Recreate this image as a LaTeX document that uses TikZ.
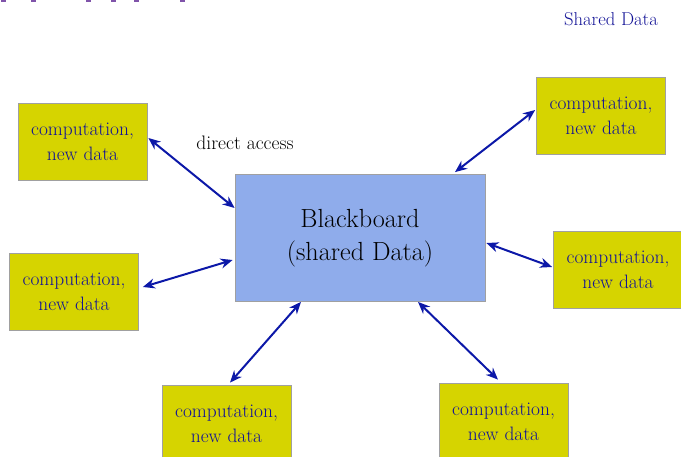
\documentclass[tikz,border=0pt]{standalone}
\usetikzlibrary{arrows.meta,calc}
\definecolor{procfill}{RGB}{214,212,0}
\definecolor{boardfill}{RGB}{143,172,235}
\definecolor{edgegray}{RGB}{160,160,160}
\definecolor{inkblue}{RGB}{18,18,150}
\definecolor{arrowblue}{RGB}{12,24,168}
\definecolor{titlepurple}{RGB}{128,84,170}
\begin{document}
\begin{tikzpicture}[x=1pt,y=-1pt,
  procbox/.style={draw=edgegray,line width=0.8pt,fill=procfill,text=inkblue,
    minimum width=129pt,minimum height=77pt,inner sep=0pt,align=center,
    font=\fontsize{19.4}{25}\selectfont},
  board/.style={draw=edgegray,line width=0.8pt,fill=boardfill,text=black,
    minimum width=250pt,minimum height=127pt,inner sep=0pt,align=center,
    font=\fontsize{26.2}{33}\selectfont},
  link/.style={draw=arrowblue,line width=2pt,
    {Stealth[length=12pt,width=10pt]}-{Stealth[length=12pt,width=10pt]}}]
\useasboundingbox (0,0) rectangle (681,456);
\begin{scope}
\clip (0,0) rectangle (681,456);
% clipped title descenders along the top edge
\foreach \px in {1,31,86,111,134,180}
  \fill[titlepurple] (\px,0) rectangle ++(5,2);

\node[text=inkblue,font=\fontsize{18.6}{24}\selectfont] (title) at (611,19) {Shared Data};

\node[board] (bb) at (360,238) {Blackboard\\(shared Data)};

\node[procbox] (tl) at (82.5,141.5) {computation,\\new data};
\node[procbox] (tr) at (601,116) {computation,\\new data};
\node[procbox] (ml) at (74,291.5) {computation,\\new data};
\node[procbox] (mr) at (618,270) {computation,\\new data};
\node[procbox] (bl) at (226.5,423.5) {computation,\\new data};
\node[procbox] (br) at (503.5,421.5) {computation,\\new data};

\node[font=\fontsize{19.5}{25}\selectfont] (lbl) at (245,143) {direct access};

\draw[link] ($(tl.east)+(1,-3.5)$) -- ($(bb.west)+(0,-30)$);
\draw[link] ($(ml.east)+(4,-4.5)$) -- ($(bb.west)+(-2,22)$);
\draw[link] ($(tr.west)+(-1,-6)$) -- ($(bb.north)+(95,-2)$);
\draw[link] ($(bb.east)+(1,5)$) -- ($(mr.west)+(-1,-3)$);
\draw[link] ($(bl.north)+(3.5,-2)$) -- ($(bb.south)+(-59,0)$);
\draw[link] ($(bb.south)+(58,0)$) -- ($(br.north)+(-5.5,-3)$);
\end{scope}
\end{tikzpicture}
\end{document}
